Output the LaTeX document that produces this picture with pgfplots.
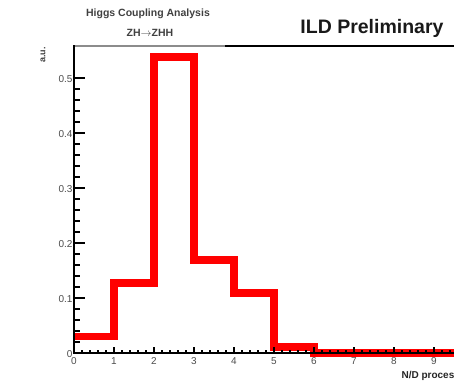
\documentclass[border=0pt]{standalone}
\usepackage{pgfplots}
\pgfplotsset{compat=1.18}
\usepackage{fontspec}
\setmainfont{Liberation Sans}
\begin{document}
\begin{tikzpicture}[x=1pt,y=1pt]
\begin{axis}[
  at={(0pt,0pt)}, anchor=south west,
  scale only axis, width=400pt, height=307pt,
  xmin=0, xmax=10, ymin=0, ymax=0.558,
  clip=false, axis on top,
  axis line style={line width=2.6pt},
  xtick={0,1,...,9},
  ytick={0,0.1,0.2,0.3,0.4,0.5}, minor y tick num=4,
  yticklabels={0,0.1,0.2,0.3,0.4,0.5},
  tick style={line width=1.6pt, black},
  x tick style={draw=none},
  major tick length=11pt, minor tick length=6pt,
  tick align=inside,
  xtick pos=bottom, ytick pos=left,
  tick label style={font=\fontsize{10}{11}\selectfont, text=black!70},
  /pgf/number format/assume math mode=true,
  xticklabel style={yshift=-1pt},
  yticklabel style={xshift=2pt, yshift=-1pt},
]
\addplot[const plot, red, line width=7.5pt] coordinates {
 (0,0.030) (1,0.127) (2,0.538) (3,0.169) (4,0.109) (5,0.011)
 (6,0) (7,0) (8,0) (9,0) (10,0)
};
\pgfplotsinvokeforeach{0,1,...,9}{
  \draw[line width=1.6pt] (axis cs:#1,0) -- ++(0,6pt);
  \draw[line width=1.2pt] (axis cs:#1.2,0) -- ++(0,3pt);
  \draw[line width=1.2pt] (axis cs:#1.4,0) -- ++(0,3pt);
  \draw[line width=1.2pt] (axis cs:#1.6,0) -- ++(0,3pt);
  \draw[line width=1.2pt] (axis cs:#1.8,0) -- ++(0,3pt);
}
\end{axis}
\draw[black!45, line width=2.6pt] (1,307) -- (151,307);
\node[font=\bfseries\fontsize{10.5}{12}\selectfont, text=black!75] at (74,339) {Higgs Coupling Analysis};
\node[font=\bfseries\fontsize{10.5}{12}\selectfont, text=black!75] at (76,320) {ZH$\rightarrow$ZHH};
\node[font=\bfseries\fontsize{19.5}{21}\selectfont, text=black!90] at (298,325) {ILD Preliminary};
\node[font=\bfseries\fontsize{9}{10}\selectfont, rotate=90, text=black!75] at (-31,298) {a.u.};
\node[font=\bfseries\fontsize{10}{11}\selectfont, anchor=west, text=black!85] at (324,-23) {N/D process};
\pgfresetboundingbox
\useasboundingbox (-74,-29) rectangle (380,353);
\end{tikzpicture}
\end{document}
